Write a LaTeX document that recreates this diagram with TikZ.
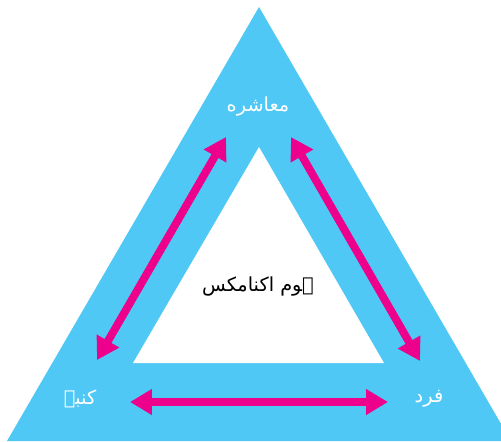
\documentclass[tikz,border=0pt]{standalone}
\usepackage{fontspec}
\usetikzlibrary{arrows.meta}
\TeXXeTstate=1
\newfontfamily\urdufont[Script=Arabic]{DejaVu Sans}
\definecolor{skyblue}{RGB}{80,200,245}
\definecolor{hotmagenta}{RGB}{236,0,140}

\begin{document}
\begin{tikzpicture}[x=0.02cm, y=-0.02cm,
  corner/.style={text=white, font=\urdufont\fontsize{11}{13}\selectfont},
  link/.style={{Triangle[length=12.5pt,width=14pt]}-{Triangle[length=12.5pt,width=14pt]}, line width=4.5pt, hotmagenta}]
\useasboundingbox (0,0) rectangle (501,441);
\clip (0,0) rectangle (501,441);
% outer and inner triangles
\fill[skyblue] (7,441) -- (259,7) -- (511,441) -- cycle;
\fill[white] (133,363) -- (259,147) -- (384,363) -- cycle;
% labels
\node[corner] (society) at (258,107) {\beginR معاشره\endR};
\node[corner] (family) at (80,399) {\beginR کنبہ\endR};
\node[corner] (person) at (429,399) {\beginR فرد\endR};
\node[font=\urdufont\fontsize{11}{13}\selectfont] (home) at (258,287) {\beginR ہوم اکنامکس\endR};
% arrow ends
\coordinate (lt) at (226,137);
\coordinate (lb) at (97,360);
\coordinate (rt) at (291,137);
\coordinate (rb) at (420,361);
\coordinate (bl) at (130,402);
\coordinate (br) at (388,402);
\draw[link] (lt) -- (lb);
\draw[link] (rt) -- (rb);
\draw[link] (bl) -- (br);
\end{tikzpicture}
\end{document}
